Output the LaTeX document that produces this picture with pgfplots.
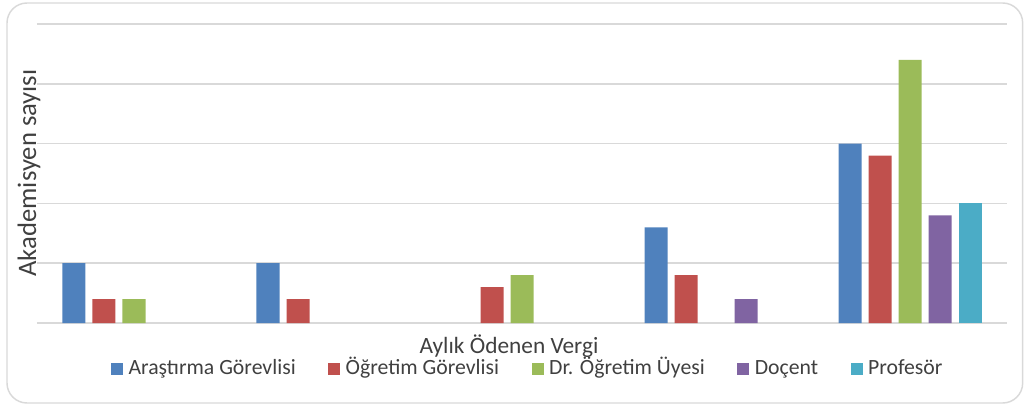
\documentclass[border=0pt]{standalone}
\usepackage{pgfplots}
\pgfplotsset{compat=1.18}
\usepackage{fontspec}
\setmainfont{Carlito}
\definecolor{cBlue}{HTML}{4F81BD}
\definecolor{cRed}{HTML}{C0504D}
\definecolor{cGreen}{HTML}{9BBB59}
\definecolor{cPurple}{HTML}{8064A2}
\definecolor{cTeal}{HTML}{4BACC6}
\definecolor{cGrid}{HTML}{D9D9D9}
\definecolor{cText}{HTML}{404040}
\begin{document}
\begin{tikzpicture}
\useasboundingbox (0,0) rectangle (768pt,303.75pt);
\draw[cGrid, line width=1.1pt, rounded corners=15pt] (5.25pt,1.5pt) rectangle (767pt,301.5pt);
\begin{axis}[
  at={(27.75pt,61.5pt)}, anchor=south west,
  scale only axis, width=727.5pt, height=224.25pt,
  xmin=-0.5, xmax=4.5, ymin=0, ymax=25,
  xtick=\empty, ytick={0,5,10,15,20,25}, yticklabels={},
  major tick length=0pt,
  ymajorgrids, grid style={cGrid, line width=1.2pt},
  axis line style={draw=none},
  ybar=5.25pt, bar width=17.25pt,
  legend columns=5,
  legend style={at={(0.506,-0.147)}, anchor=center, draw=none, fill=none,
    font=\fontsize{16.3pt}{18pt}\selectfont, text=cText,
    /tikz/every even column/.append style={column sep=23pt},
    /tikz/every odd column/.append style={column sep=2.5pt},
    nodes={inner sep=1.5pt, anchor=base west},
    inner sep=0pt},
  legend image code/.code={\fill (0pt,-0.5pt) rectangle (9pt,8.5pt);},
  legend cell align=left,
]
\addplot[fill=cBlue, draw=none] coordinates {(0,5) (1,5) (3,8) (4,15)};
\addplot[fill=cRed, draw=none] coordinates {(0,2) (1,2) (2,3) (3,4) (4,14)};
\addplot[fill=cGreen, draw=none] coordinates {(0,2) (2,4) (4,22)};
\addplot[fill=cPurple, draw=none] coordinates {(3,2) (4,9)};
\addplot[fill=cTeal, draw=none] coordinates {(4,10)};
\legend{Araştırma Görevlisi, Öğretim Görevlisi, Dr. Öğretim Üyesi, Doçent, Profesör}
\end{axis}
\node[text=cText, font=\fontsize{17.5pt}{20pt}\selectfont] at (381.75pt,44pt) {Aylık Ödenen Vergi};
\node[text=cText, font=\fontsize{20pt}{22pt}\selectfont, rotate=90] at (21.75pt,174pt) {Akademisyen sayısı};
\end{tikzpicture}
\end{document}
